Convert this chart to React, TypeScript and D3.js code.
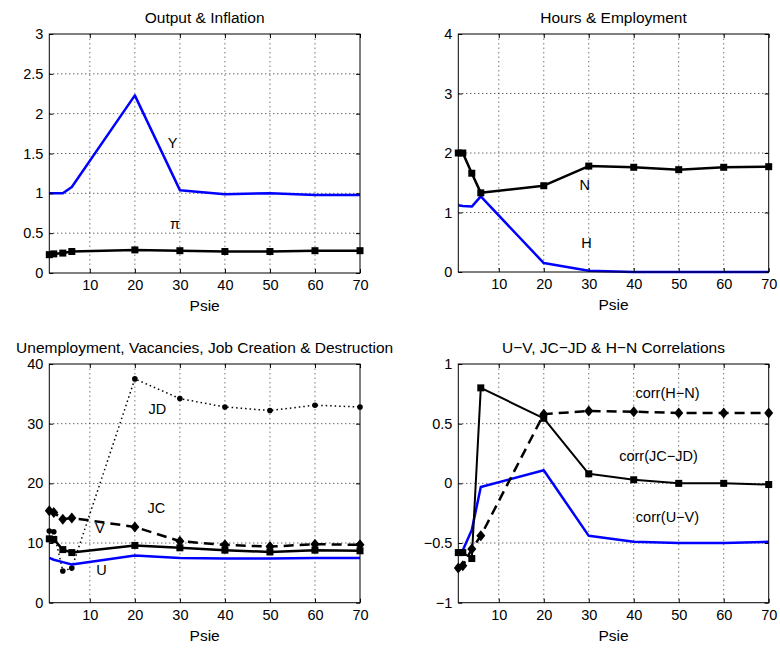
import React, { useEffect, useRef } from "react";
import * as d3 from "d3";

// x values (Psie) shared by every panel
const psie = [1, 2, 4, 6, 20, 30, 40, 50, 60, 70];
const xTicks = [10, 20, 30, 40, 50, 60, 70];

// Output & Inflation
const output = [1.0, 1.0, 1.0, 1.08, 2.23, 1.04, 0.99, 1.0, 0.98, 0.98];
const inflation = [0.23, 0.24, 0.25, 0.27, 0.29, 0.28, 0.27, 0.27, 0.28, 0.28];
const outputTicks = [0, 0.5, 1, 1.5, 2, 2.5, 3];

// Hours & Employment
const employment = [2.0, 2.0, 1.66, 1.33, 1.45, 1.78, 1.76, 1.72, 1.76, 1.77];
const hours = [1.12, 1.11, 1.1, 1.27, 0.15, 0.02, 0.0, 0.0, 0.0, 0.0];
const hoursTicks = [0, 1, 2, 3, 4];

// Unemployment, Vacancies, JC, JD
const unemployment = [7.5, 7.2, 6.8, 6.4, 7.9, 7.5, 7.4, 7.4, 7.5, 7.5];
const vacancies = [10.7, 10.6, 8.9, 8.4, 9.6, 9.2, 8.8, 8.5, 8.8, 8.7];
const jobCreation = [15.4, 15.1, 14.0, 14.2, 12.7, 10.3, 9.7, 9.4, 9.8, 9.7];
const jobDestruction = [12.0, 11.9, 5.3, 5.8, 37.5, 34.2, 32.8, 32.2, 33.1, 32.8];
const laborTicks = [0, 10, 20, 30, 40];

// Correlations
const corrUV = [-0.57, -0.56, -0.39, -0.03, 0.11, -0.44, -0.49, -0.5, -0.5, -0.49];
const corrJCJD = [-0.58, -0.58, -0.63, 0.8, 0.545, 0.08, 0.03, 0.0, 0.0, -0.01];
const corrHN = [-0.71, -0.69, -0.55, -0.44, 0.58, 0.606, 0.6, 0.59, 0.59, 0.59];
const corrTicks = [-1, -0.5, 0, 0.5, 1];

const BLUE = "#0000ff";
const FONT = "'Liberation Sans', Arial, Helvetica, sans-serif";

const blue = (values) => ({ values, color: BLUE, width: 2.5 });
const black = (values, extra = {}) => ({ values, color: "#000", width: 2.5, ...extra });

const panels = [
  {
    title: "Output & Inflation",
    box: [49.3, 34, 360, 273],
    yDomain: [0, 3],
    yTicks: outputTicks,
    series: [blue(output), black(inflation, { marker: "square" })],
    labels: [
      { text: "Y", x: 28.4, y: 1.63 },
      { text: "π", x: 28.9, y: 0.61 },
    ],
  },
  {
    title: "Hours & Employment",
    box: [458.3, 34, 768.7, 272],
    yDomain: [0, 4],
    yTicks: hoursTicks,
    series: [blue(hours), black(employment, { marker: "square" })],
    labels: [
      { text: "N", x: 29.1, y: 1.46 },
      { text: "H", x: 29.5, y: 0.49 },
    ],
  },
  {
    title: "Unemployment, Vacancies, Job Creation & Destruction",
    box: [49.3, 364, 360, 602.7],
    yDomain: [0, 40],
    yTicks: laborTicks,
    series: [
      black(jobDestruction, { marker: "dot", dash: "1.5,3", width: 1.5 }),
      blue(unemployment),
      black(vacancies, { marker: "square" }),
      black(jobCreation, { marker: "diamond", dash: "10,6" }),
    ],
    labels: [
      { text: "JD", x: 25, y: 32.4 },
      { text: "JC", x: 24.8, y: 15.8 },
      { text: "V", x: 12.2, y: 12.5 },
      { text: "U", x: 12.6, y: 5.5 },
    ],
  },
  {
    title: "U−V, JC−JD & H−N Correlations",
    box: [458.3, 364, 768.7, 602.7],
    yDomain: [-1, 1],
    yTicks: corrTicks,
    series: [
      blue(corrUV),
      black(corrHN, { marker: "diamond", dash: "10,6" }),
      black(corrJCJD, { marker: "square", width: 2 }),
    ],
    labels: [
      { text: "corr(H−N)", x: 47.5, y: 0.76 },
      { text: "corr(JC−JD)", x: 45.5, y: 0.23 },
      { text: "corr(U−V)", x: 47.5, y: -0.28 },
    ],
  },
];

const fmt = (d) => String(d).replace("-", "−");

export default function App() {
  const svgRef = useRef(null);

  useEffect(() => {
    const svg = d3.select(svgRef.current);
    svg.selectAll("*").remove();

    panels.forEach((p) => {
      const [x0, y0, x1, y1] = p.box;
      const x = d3.scaleLinear().domain([1, 70]).range([x0, x1]);
      const y = d3.scaleLinear().domain(p.yDomain).range([y1, y0]);
      const g = svg.append("g");

      // dotted grid
      g.append("g")
        .selectAll("line")
        .data(xTicks.filter((t) => t < 70))
        .enter()
        .append("line")
        .attr("x1", (d) => x(d))
        .attr("x2", (d) => x(d))
        .attr("y1", y0)
        .attr("y2", y1)
        .attr("stroke", "#777")
        .attr("stroke-width", 1)
        .attr("stroke-dasharray", "1.5,3");
      g.append("g")
        .selectAll("line")
        .data(p.yTicks.filter((t) => t !== p.yDomain[0] && t !== p.yDomain[1]))
        .enter()
        .append("line")
        .attr("x1", x0)
        .attr("x2", x1)
        .attr("y1", (d) => y(d))
        .attr("y2", (d) => y(d))
        .attr("stroke", "#222")
        .attr("stroke-width", 1)
        .attr("stroke-dasharray", "1,3");

      // series
      p.series.forEach((s) => {
        const line = d3.line().x((d, i) => x(psie[i])).y((d) => y(d));
        g.append("path")
          .datum(s.values)
          .attr("d", line)
          .attr("fill", "none")
          .attr("stroke", s.color)
          .attr("stroke-width", s.width)
          .attr("stroke-linejoin", "round")
          .attr("stroke-dasharray", s.dash || null);

        if (s.marker === "square") {
          g.selectAll(null)
            .data(s.values)
            .enter()
            .append("rect")
            .attr("x", (d, i) => x(psie[i]) - 3.5)
            .attr("y", (d) => y(d) - 3.5)
            .attr("width", 7)
            .attr("height", 7)
            .attr("fill", s.color);
        } else if (s.marker === "diamond") {
          g.selectAll(null)
            .data(s.values)
            .enter()
            .append("path")
            .attr("d", "M0,-5.5L4.5,0L0,5.5L-4.5,0Z")
            .attr("transform", (d, i) => `translate(${x(psie[i])},${y(d)})`)
            .attr("fill", s.color);
        } else if (s.marker === "dot") {
          g.selectAll(null)
            .data(s.values)
            .enter()
            .append("circle")
            .attr("cx", (d, i) => x(psie[i]))
            .attr("cy", (d) => y(d))
            .attr("r", 2.8)
            .attr("fill", s.color);
        }
      });

      // annotations
      g.selectAll(null)
        .data(p.labels)
        .enter()
        .append("text")
        .attr("x", (d) => x(d.x))
        .attr("y", (d) => y(d.y))
        .attr("text-anchor", "middle")
        .attr("dominant-baseline", "central")
        .style("font-family", FONT)
        .style("font-size", "14.5px")
        .text((d) => d.text);

      // axes with inward ticks on all sides
      const styleAxis = (sel) => {
        sel.select(".domain").remove();
        sel.selectAll("line").attr("stroke", "#000");
        sel.selectAll("text").style("font-family", FONT).style("font-size", "14.5px").attr("fill", "#000");
      };
      g.append("g")
        .attr("transform", `translate(0,${y1})`)
        .call(d3.axisBottom(x).tickValues(xTicks).tickSizeInner(-4).tickSizeOuter(0).tickPadding(7).tickFormat(fmt))
        .call(styleAxis);
      g.append("g")
        .attr("transform", `translate(0,${y0})`)
        .call(d3.axisTop(x).tickValues(xTicks).tickSizeInner(-4).tickSizeOuter(0).tickFormat(() => ""))
        .call(styleAxis);
      g.append("g")
        .attr("transform", `translate(${x0},0)`)
        .call(d3.axisLeft(y).tickValues(p.yTicks).tickSizeInner(-4).tickSizeOuter(0).tickPadding(6).tickFormat(fmt))
        .call(styleAxis);
      g.append("g")
        .attr("transform", `translate(${x1},0)`)
        .call(d3.axisRight(y).tickValues(p.yTicks).tickSizeInner(-4).tickSizeOuter(0).tickFormat(() => ""))
        .call(styleAxis);

      g.append("rect")
        .attr("x", x0)
        .attr("y", y0)
        .attr("width", x1 - x0)
        .attr("height", y1 - y0)
        .attr("fill", "none")
        .attr("stroke", "#000")
        .attr("stroke-width", 1);

      // title and x label
      g.append("text")
        .attr("x", (x0 + x1) / 2)
        .attr("y", y0 - 11)
        .attr("text-anchor", "middle")
        .style("font-family", FONT)
        .style("font-size", "15.5px")
        .text(p.title);
      g.append("text")
        .attr("x", (x0 + x1) / 2)
        .attr("y", y1 + 38)
        .attr("text-anchor", "middle")
        .style("font-family", FONT)
        .style("font-size", "15.5px")
        .text("Psie");
    });
  }, []);

  return (
    <div style={{ position: "absolute", left: 0, top: 0 }}>
      <svg ref={svgRef} width={780} height={648} style={{ display: "block", background: "#fff" }} />
    </div>
  );
}
